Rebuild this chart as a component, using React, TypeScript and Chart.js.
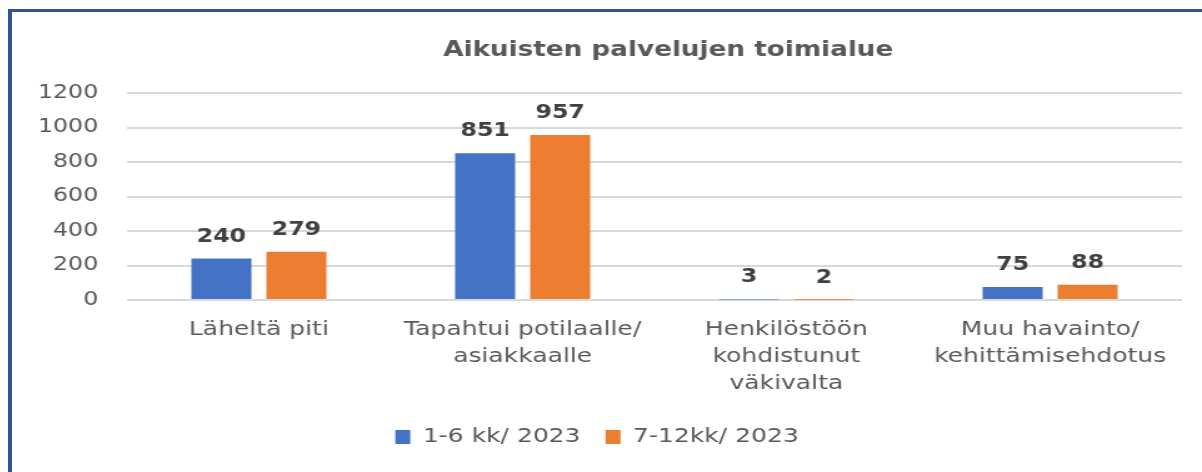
import React, { useEffect, useRef } from 'react';
import { Chart, registerables } from 'chart.js';

Chart.register(...registerables);
Chart.defaults.font.family = '"DejaVu Sans", Verdana, sans-serif';

const chartTitle = 'Aikuisten palvelujen toimialue';
const categories: string[][] = [
  ['Läheltä piti'],
  ['Tapahtui potilaalle/', 'asiakkaalle'],
  ['Henkilöstöön', 'kohdistunut', 'väkivalta'],
  ['Muu havainto/', 'kehittämisehdotus'],
];
const seriesNames = ['1-6 kk/ 2023', '7-12kk/ 2023'];
const firstHalf = [240, 851, 3, 75];
const secondHalf = [279, 957, 2, 88];
const yMin = 0;
const yMax = 1200;
const yStep = 200;

const SX = 1.25; // horizontal stretch of the picture
const CSS_W = 1190;
const CSS_H = 445;
const CANVAS_W = Math.round(CSS_W / SX);

const titlePlugin = {
  id: 'customTitle',
  afterDraw(chart: any) {
    const { ctx, chartArea } = chart;
    ctx.save();
    ctx.font = 'bold 21px "DejaVu Sans"';
    ctx.fillStyle = '#595959';
    ctx.textAlign = 'center';
    ctx.textBaseline = 'middle';
    ctx.fillText(chartTitle, (chartArea.left + chartArea.right) / 2 + 11, 39);
    ctx.restore();
  },
};

const valueLabels = {
  id: 'valueLabels',
  afterDatasetsDraw(chart: any) {
    const { ctx } = chart;
    ctx.save();
    ctx.font = 'bold 19px "DejaVu Sans"';
    ctx.fillStyle = '#404040';
    ctx.textAlign = 'center';
    ctx.textBaseline = 'middle';
    chart.data.datasets.forEach((ds: any, i: number) => {
      const meta = chart.getDatasetMeta(i);
      meta.data.forEach((el: any, j: number) => {
        ctx.fillText(String(ds.data[j]), el.x, el.y - 22);
      });
    });
    ctx.restore();
  },
};

export default function App() {
  const ref = useRef<HTMLCanvasElement | null>(null);

  useEffect(() => {
    if (!ref.current) return;
    const chart = new Chart(ref.current, {
      type: 'bar',
      data: {
        labels: categories,
        datasets: [
          {
            label: seriesNames[0],
            data: firstHalf,
            backgroundColor: '#4472c4',
            borderWidth: 0,
            barPercentage: 0.8,
            categoryPercentage: 0.569,
          },
          {
            label: seriesNames[1],
            data: secondHalf,
            backgroundColor: '#ed7d31',
            borderWidth: 0,
            barPercentage: 0.8,
            categoryPercentage: 0.569,
          },
        ],
      },
      options: {
        responsive: false,
        devicePixelRatio: 1,
        animation: false,
        layout: { padding: { top: 81, right: 16, left: 0, bottom: 0 } },
        plugins: {
          legend: {
            position: 'bottom',
            labels: {
              boxWidth: 12,
              boxHeight: 14,
              padding: 20,
              color: '#595959',
              font: { size: 20 },
            },
          },
          tooltip: { enabled: false },
          title: { display: false },
        },
        scales: {
          x: {
            grid: { display: false, drawTicks: false },
            border: { display: false },
            ticks: {
              color: '#595959',
              font: { size: 20, lineHeight: 1.35 },
              padding: 16,
              maxRotation: 0,
              autoSkip: false,
            },
            afterFit: (s: any) => {
              s.height = 107;
            },
          },
          y: {
            min: yMin,
            max: yMax,
            ticks: {
              stepSize: yStep,
              color: '#595959',
              font: { size: 19 },
              padding: 23,
              callback: (v: any) => String(v),
            },
            grid: { color: '#d9d9d9', lineWidth: 2, drawTicks: false },
            border: { display: false },
            afterFit: (s: any) => {
              s.width = 92;
            },
          },
        },
      },
      plugins: [titlePlugin, valueLabels],
    });
    return () => chart.destroy();
  }, []);

  return (
    <div style={{ position: 'relative', paddingTop: 4, paddingLeft: 4 }}>
      <div
        style={{
          position: 'fixed',
          left: 8,
          top: 9,
          right: 0,
          bottom: 0,
          borderLeft: '4px solid #2f5597',
          borderTop: '3px solid #2f5597',
          pointerEvents: 'none',
        }}
      />
      <canvas
        ref={ref}
        width={CANVAS_W}
        height={CSS_H}
        style={{ width: CSS_W, height: CSS_H, display: 'block' }}
      />
    </div>
  );
}
